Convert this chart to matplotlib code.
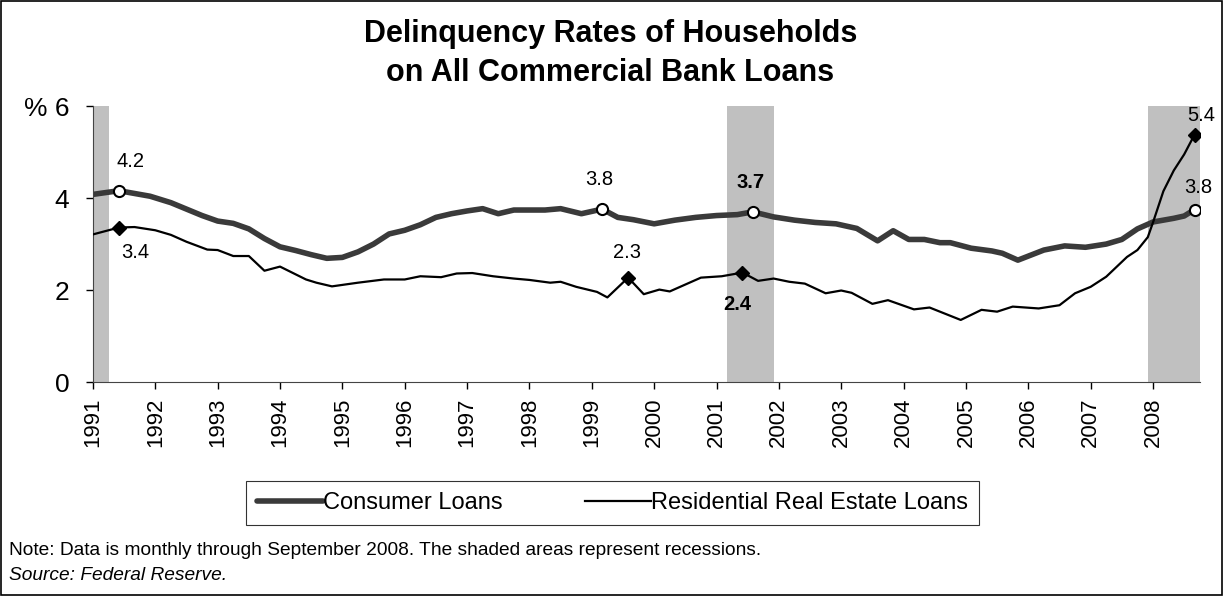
import matplotlib
matplotlib.use("Agg")
import matplotlib.pyplot as plt
from matplotlib.patches import Rectangle

plt.rcParams['font.family'] = ['Liberation Sans', 'DejaVu Sans']

# Delinquency rates (%), read at month 'YYYY-MM'
consumer_months = ['1991-01', '1991-06', '1991-09', '1991-12', '1992-04', '1992-07', '1992-10',
                   '1993-01', '1993-04', '1993-07', '1993-10', '1994-01', '1994-04', '1994-07',
                   '1994-10', '1995-01', '1995-04', '1995-07', '1995-10', '1996-01', '1996-04',
                   '1996-07', '1996-10', '1997-01', '1997-04', '1997-07', '1997-10', '1998-01',
                   '1998-04', '1998-07', '1998-11', '1999-03', '1999-06', '1999-09', '2000-01',
                   '2000-05', '2000-09', '2001-01', '2001-05', '2001-08', '2001-12', '2002-04',
                   '2002-08', '2002-12', '2003-04', '2003-08', '2003-11', '2004-02', '2004-05',
                   '2004-08', '2004-10', '2005-02', '2005-06', '2005-08', '2005-11', '2006-04',
                   '2006-08', '2006-12', '2007-04', '2007-07', '2007-10', '2008-01', '2008-05',
                   '2008-07', '2008-09']
consumer_values = [4.08, 4.16, 4.10, 4.04, 3.90, 3.76, 3.62,
                   3.50, 3.45, 3.33, 3.12, 2.94, 2.86, 2.77,
                   2.69, 2.71, 2.83, 3.00, 3.22, 3.30, 3.42,
                   3.58, 3.66, 3.72, 3.77, 3.66, 3.74, 3.74,
                   3.74, 3.77, 3.66, 3.76, 3.58, 3.53, 3.44,
                   3.52, 3.58, 3.62, 3.64, 3.70, 3.59, 3.52,
                   3.47, 3.44, 3.34, 3.07, 3.29, 3.10, 3.10,
                   3.03, 3.03, 2.91, 2.85, 2.80, 2.65, 2.87,
                   2.96, 2.93, 3.00, 3.10, 3.33, 3.48, 3.56,
                   3.61, 3.75]

residential_months = ['1991-01', '1991-06', '1991-09', '1992-01', '1992-04', '1992-07', '1992-11',
                      '1993-01', '1993-04', '1993-07', '1993-10', '1994-01', '1994-06', '1994-08',
                      '1994-11', '1995-04', '1995-09', '1996-01', '1996-04', '1996-08', '1996-11',
                      '1997-02', '1997-06', '1997-10', '1998-01', '1998-05', '1998-07', '1998-10',
                      '1999-02', '1999-04', '1999-08', '1999-11', '2000-02', '2000-04', '2000-07',
                      '2000-10', '2001-02', '2001-06', '2001-09', '2001-12', '2002-03', '2002-06',
                      '2002-10', '2003-01', '2003-03', '2003-07', '2003-10', '2004-03', '2004-06',
                      '2004-12', '2005-04', '2005-07', '2005-10', '2006-03', '2006-07', '2006-10',
                      '2007-01', '2007-04', '2007-08', '2007-10', '2007-12', '2008-01', '2008-03',
                      '2008-05', '2008-07', '2008-09']
residential_values = [3.21, 3.36, 3.37, 3.30, 3.20, 3.05, 2.88,
                      2.87, 2.74, 2.74, 2.42, 2.51, 2.23, 2.16,
                      2.08, 2.16, 2.23, 2.23, 2.30, 2.28, 2.36,
                      2.37, 2.30, 2.25, 2.22, 2.16, 2.18, 2.07,
                      1.96, 1.84, 2.27, 1.91, 2.01, 1.97, 2.12,
                      2.27, 2.30, 2.38, 2.20, 2.25, 2.18, 2.14,
                      1.93, 1.99, 1.94, 1.70, 1.78, 1.58, 1.62,
                      1.35, 1.57, 1.53, 1.64, 1.60, 1.67, 1.93,
                      2.07, 2.29, 2.72, 2.87, 3.15, 3.47, 4.15,
                      4.60, 4.95, 5.38]

# Recessions (start month, end month)
recession_starts = ['1991-01', '2001-03', '2007-12']
recession_ends = ['1991-03', '2001-11', '2008-09']

# Points that carry a value label: (index, label offset in points, bold)
consumer_labels = [(1, (8, 21), False), (31, (-2, 21), False), (39, (-2, 21), True), (64, (3, 16), False)]
residential_labels = [(1, (12, -18), False), (30, (-1, 18), False), (37, (-4, -23), True), (65, (5, 14), False)]

years = list(range(1991, 2009))


def to_year(m):
    y, mo = m.split('-')
    return int(y) + (int(mo) - 1) / 12


cx = [to_year(m) for m in consumer_months]
rx = [to_year(m) for m in residential_months]

fig = plt.figure(figsize=(12.23, 5.96), dpi=100)
ax = fig.add_axes([0.076, 0.359, 0.905, 0.463])

for s, e in zip(recession_starts, recession_ends):
    ax.axvspan(to_year(s), to_year(e) + 1 / 12, color='#c0c0c0', lw=0, zorder=0)

ax.plot(cx, consumer_values, color='#3a3a3a', lw=4.0, solid_capstyle='round',
        solid_joinstyle='round', label='Consumer Loans', zorder=2)
ax.plot(rx, residential_values, color='black', lw=1.6, solid_joinstyle='round',
        label='Residential Real Estate Loans', zorder=3)

for i, off, bold in consumer_labels:
    ax.plot(cx[i], consumer_values[i], 'o', ms=8, mfc='white', mec='black', mew=1.5, zorder=4)
    ax.annotate(f"{consumer_values[i]:.1f}", (cx[i], consumer_values[i]), xytext=off,
                textcoords='offset points', ha='center', va='center', fontsize=14.5,
                fontweight='bold' if bold else 'normal')

for i, off, bold in residential_labels:
    ax.plot(rx[i], residential_values[i], 'D', ms=7, color='black', zorder=4)
    ax.annotate(f"{residential_values[i]:.1f}", (rx[i], residential_values[i]), xytext=off,
                textcoords='offset points', ha='center', va='center', fontsize=14.5,
                fontweight='bold' if bold else 'normal')

ax.set_xlim(1991, 2008.75)
ax.set_ylim(0, 6)
ax.set_yticks([0, 2, 4, 6])
ax.set_yticklabels(['0', '2', '4', '% 6'], fontsize=19)
ax.set_xticks(years)
ax.set_xticklabels([str(y) for y in years], rotation=90, fontsize=16)
ax.tick_params(axis='y', length=5, width=1, pad=12)
ax.tick_params(axis='x', length=5, width=1, pad=6)
for side in ['top', 'right']:
    ax.spines[side].set_visible(False)
for side in ['left', 'bottom']:
    ax.spines[side].set_color('#444444')

fig.text(0.499, 0.943, 'Delinquency Rates of Households', ha='center', va='center',
         fontsize=22, fontweight='bold')
fig.text(0.499, 0.877, 'on All Commercial Bank Loans', ha='center', va='center',
         fontsize=22, fontweight='bold')

leg = fig.legend(loc='center', bbox_to_anchor=(0.501, 0.156), ncol=2, fontsize=17,
                 frameon=True, fancybox=False, edgecolor='black', handlelength=2.8,
                 handletextpad=0.0, columnspacing=3.5, borderpad=0.45)
leg.get_frame().set_linewidth(0.8)

fig.text(0.007, 0.077, 'Note: Data is monthly through September 2008. The shaded areas represent recessions.',
         ha='left', va='center', fontsize=13.8)
fig.text(0.007, 0.035, 'Source: Federal Reserve.', ha='left', va='center', fontsize=13.8, style='italic')

fig.patches.append(Rectangle((0.001, 0.001), 0.998, 0.997, transform=fig.transFigure,
                             fill=False, edgecolor='black', lw=1.2))

fig.savefig('out.png', dpi=100)
